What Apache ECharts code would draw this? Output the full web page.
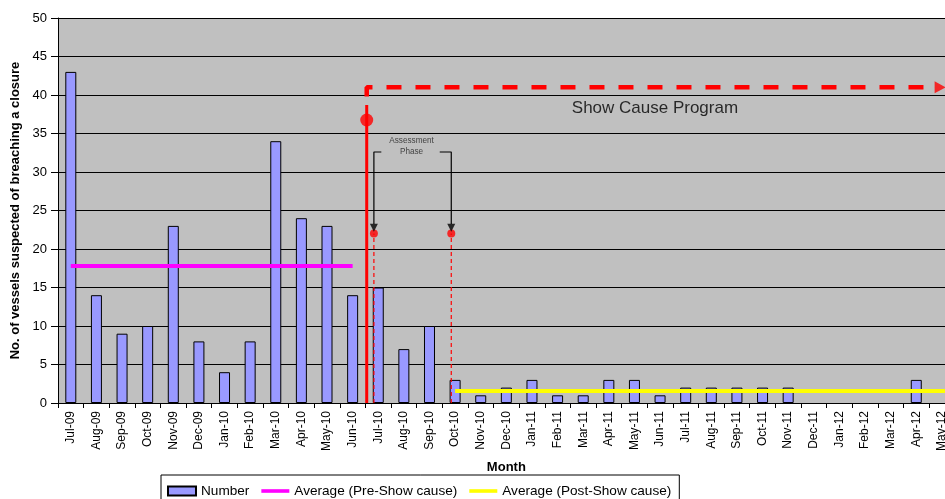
<!DOCTYPE html>
<html>
<head>
<meta charset="utf-8">
<script src="https://cdn.jsdelivr.net/npm/echarts@6/dist/echarts.min.js"></script>
<style>
  html, body { margin: 0; padding: 0; background: #fff; overflow: hidden; }
  #chart { width: 945px; height: 499px; }
</style>
</head>
<body>
<div id="chart"></div>
<script>
// Monthly counts of vessels suspected of breaching a closure
const months = ['Jul-09','Aug-09','Sep-09','Oct-09','Nov-09','Dec-09','Jan-10','Feb-10','Mar-10','Apr-10','May-10','Jun-10',
  'Jul-10','Aug-10','Sep-10','Oct-10','Nov-10','Dec-10','Jan-11','Feb-11','Mar-11','Apr-11','May-11','Jun-11',
  'Jul-11','Aug-11','Sep-11','Oct-11','Nov-11','Dec-11','Jan-12','Feb-12','Mar-12','Apr-12','May-12'];
const vessels = [43,14,9,10,23,8,4,8,34,24,23,14,
  15,7,10,3,1,2,3,1,1,3,3,1,
  2,2,2,2,2,0,0,0,0,3,0];

// Averages before and after the show cause program
const preAverage = 17.8;
const postAverage = 1.55;
const preSpan = [0.5, 11.5];     // Jul-09 .. Jun-10 (month-index scale)
const postSpan = [15.5, 35];     // Oct-10 .. end

// Program annotations, in month-index / count units
const programStart = 12.05;
const programSolidTop = 38.7;
const programMarker = 36.75;
const programLevel = 41;
const programDashStart = 39.8;
const programArrowX = 34.43;
const programDashEnd = 34.2;
const phaseMarks = [12.33, 15.35];
const phaseMarkLevel = 22;
const phaseBracketLevel = 32.6;
const phaseBracketInner = [12.62, 14.9];
const phaseArrowLevel = 22.75;
const programLabelPos = [23.3, 38.3];
const phaseLabelPos = [13.8, 33.3];

const yMin = 0, yMax = 50, yStep = 5;

const chart = echarts.init(document.getElementById('chart'));
const FONT = 'Liberation Sans, Arial, sans-serif';
const LINE_ICON = 'path://M0,0H31V4H0Z';

function hline(name, data, color, width, dash, z) {
  return {
    name: name, type: 'line', xAxisIndex: 1, data: data,
    symbol: 'none', silent: true, animation: false, z: z || 3,
    lineStyle: { color: color, width: width, type: dash || 'solid', cap: 'butt' },
    itemStyle: { color: color }
  };
}

const option = {
  animation: false,
  textStyle: { fontFamily: FONT },
  grid: {
    left: 58, top: 18, bottom: 96, width: 896.7,
    outerBoundsMode: 'none', containLabel: false,
    show: true, backgroundColor: '#C0C0C0', borderWidth: 0
  },
  legend: {
    left: 161, top: 475,
    data: [
      { name: 'Number', icon: 'rect' },
      { name: 'Average (Pre-Show cause)', icon: LINE_ICON },
      { name: 'Average (Post-Show cause)', icon: LINE_ICON }
    ],
    itemWidth: 28, itemHeight: 9, itemGap: 12,
    borderColor: '#000', borderWidth: 1, padding: [9, 8, 8, 6],
    textStyle: { fontFamily: FONT, fontSize: 13.6, color: '#000' }
  },
  xAxis: [
    {
      type: 'category', data: months, boundaryGap: true,
      name: 'Month', nameLocation: 'middle', nameGap: 58,
      nameTextStyle: { fontFamily: FONT, fontWeight: 'bold', fontSize: 13, color: '#000' },
      axisLine: { lineStyle: { color: '#000', width: 1 } },
      axisTick: { show: true, length: 5, alignWithLabel: false, lineStyle: { color: '#000' } },
      axisLabel: { rotate: 90, interval: 0, margin: 8, fontFamily: FONT, fontSize: 12, color: '#000' },
      splitLine: { show: false }
    },
    {
      type: 'value', min: 0, max: 35, show: false
    }
  ],
  yAxis: {
    type: 'value', min: yMin, max: yMax, interval: yStep,
    name: 'No. of vessels suspected of breaching a closure',
    nameLocation: 'middle', nameGap: 27, nameRotate: 90,
    nameTextStyle: { fontFamily: FONT, fontWeight: 'bold', fontSize: 13, color: '#000' },
    axisLine: { show: true, lineStyle: { color: '#000', width: 1 } },
    axisTick: { show: true, length: 7, lineStyle: { color: '#000' } },
    axisLabel: { fontFamily: FONT, fontSize: 13, color: '#000', margin: 11 },
    splitLine: { show: true, lineStyle: { color: '#000', width: 1 } }
  },
  series: [
    {
      // months with no cases draw no bar
      name: 'Number', type: 'bar', data: vessels.map(v => (v === 0 ? null : v)), barWidth: 11, z: 2,
      itemStyle: { color: '#9999FF', borderColor: '#000', borderWidth: 1 }
    },
    hline('Average (Pre-Show cause)', [[preSpan[0], preAverage], [preSpan[1], preAverage]], '#FF00FF', 4),
    hline('Average (Post-Show cause)', [[postSpan[0], postAverage], [postSpan[1], postAverage]], '#FFFF00', 4),
    // program start: solid red line with marker
    hline('programStart', [[programStart, 0], [programStart, programSolidTop]], '#FF0000', 3, 'solid', 5),
    {
      type: 'scatter', xAxisIndex: 1, data: [[programStart, programMarker]], symbol: 'circle', symbolSize: 13,
      itemStyle: { color: '#FF0000' }, silent: true, z: 6
    },
    // program duration: dashed red line with arrowhead
    hline('programSpan', [[programStart, programDashStart], [programStart, programLevel], [programDashEnd, programLevel]],
      '#FF0000', 4.5, [15, 14], 5),
    {
      type: 'scatter', xAxisIndex: 1, data: [[programArrowX, programLevel]], symbol: 'triangle',
      symbolSize: [12, 11], symbolRotate: -90, itemStyle: { color: '#FF0000' }, silent: true, z: 6
    },
    // assessment phase markers
    hline('phaseA', [[phaseMarks[0], 0], [phaseMarks[0], phaseMarkLevel]], '#FF0000', 1.2, [4, 3], 4),
    hline('phaseB', [[phaseMarks[1], 0], [phaseMarks[1], phaseMarkLevel]], '#FF0000', 1.2, [4, 3], 4),
    {
      type: 'scatter', xAxisIndex: 1, data: phaseMarks.map(x => [x, phaseMarkLevel]), symbol: 'circle', symbolSize: 8,
      itemStyle: { color: '#FF0000' }, silent: true, z: 6
    },
    hline('bracketA', [[phaseBracketInner[0], phaseBracketLevel], [phaseMarks[0], phaseBracketLevel], [phaseMarks[0], phaseArrowLevel + 0.5]], '#000', 1.2, 'solid', 6),
    hline('bracketB', [[phaseBracketInner[1], phaseBracketLevel], [phaseMarks[1], phaseBracketLevel], [phaseMarks[1], phaseArrowLevel + 0.5]], '#000', 1.2, 'solid', 6),
    {
      type: 'scatter', xAxisIndex: 1, data: phaseMarks.map(x => [x, phaseArrowLevel]), symbol: 'triangle',
      symbolSize: [8, 8], symbolRotate: 180, itemStyle: { color: '#000' }, silent: true, z: 7
    },
    // annotation texts
    {
      type: 'scatter', xAxisIndex: 1, symbolSize: 0, silent: true, z: 8,
      data: [
        { value: programLabelPos, label: { show: true, position: 'inside', formatter: 'Show Cause Program', fontSize: 17, color: '#000', fontFamily: FONT } },
        { value: phaseLabelPos, label: { show: true, position: 'inside', formatter: 'Assessment\nPhase', fontSize: 8.2, lineHeight: 11, color: '#222', fontFamily: FONT } }
      ]
    }
  ]
};

chart.setOption(option);
</script>
</body>
</html>
